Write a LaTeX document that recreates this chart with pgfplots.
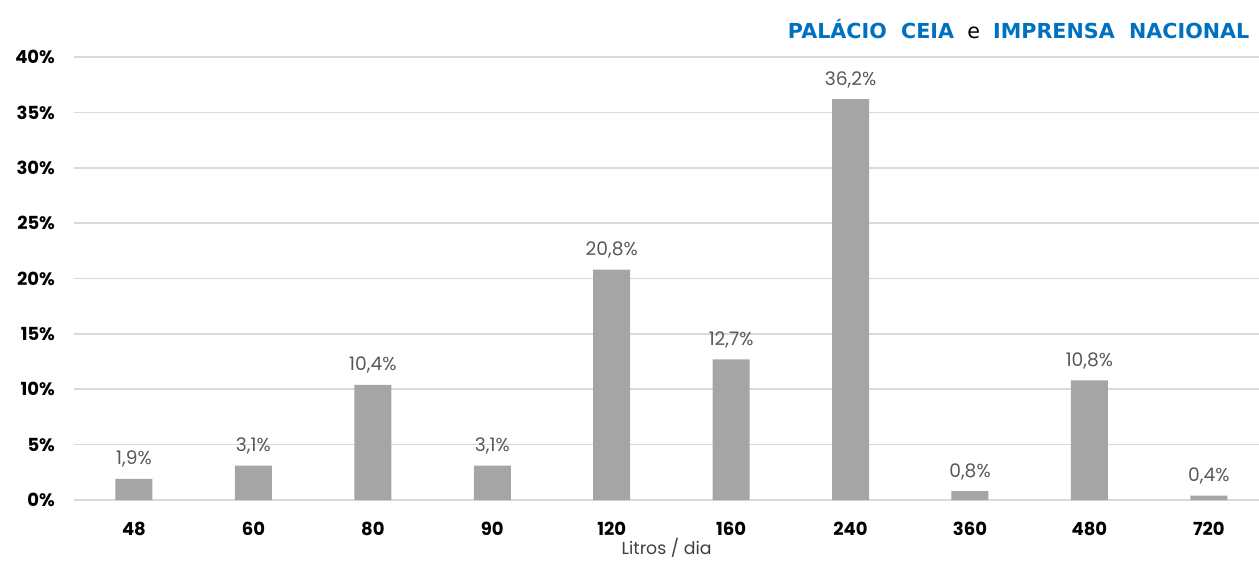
\documentclass[border=0pt]{standalone}
\usepackage{pgfplots}
\pgfplotsset{compat=1.18}
\usepackage{fontspec}
\setmainfont{Poppins}
\newfontfamily\titlefont{DejaVu Sans}
\definecolor{barc}{HTML}{A5A5A5}
\definecolor{gridc}{HTML}{D9D9D9}
\definecolor{labc}{HTML}{595959}
\definecolor{titc}{HTML}{0070C0}

\begin{document}
\begin{tikzpicture}
\begin{axis}[
    scale only axis,
    width=888.5pt, height=332.25pt,
    ymin=0, ymax=40,
    xmin=-0.5, xmax=9.42,
    ybar, bar width=27.75pt,
    xtick=data,
    xticklabels={48,60,80,90,120,160,240,360,480,720},
    ytick={0,5,...,40},
    yticklabel={\pgfmathprintnumber[assume math mode=true]{\tick}\%},
    ymajorgrids=true,
    grid style={gridc, line width=1.2pt},
    axis x line*=bottom,
    axis y line*=left,
    x axis line style={gridc, line width=1.2pt, -},
    y axis line style={draw=none},
    major tick length=0pt,
    xticklabel style={font=\bfseries\fontsize{13.5}{13.5}\selectfont, yshift=-13pt},
    yticklabel style={font=\bfseries\fontsize{13.5}{13.5}\selectfont, xshift=-11pt},
    xlabel={Litros / dia},
    xlabel style={font=\fontsize{13}{13}\selectfont, text=black!75, at={(axis description cs:0.5,0)}, anchor=base, yshift=-41pt},
    nodes near coords={\pgfmathprintnumber[fixed,precision=1,fixed zerofill,use comma,assume math mode=true]{\pgfplotspointmeta}\%},
    every node near coord/.append style={font=\fontsize{14}{14}\selectfont, text=labc, yshift=5pt},
]
\addplot[fill=barc, draw=none] coordinates {
    (0,1.9) (1,3.1) (2,10.4) (3,3.1) (4,20.8)
    (5,12.7) (6,36.2) (7,0.8) (8,10.8) (9,0.4)
};
\end{axis}
\node[anchor=base east, font=\titlefont\fontsize{15.5}{15.5}\selectfont] at (884.8pt,346pt)
    {\textcolor{titc}{\bfseries PALÁCIO\ \ CEIA}\ \ e\ \ \textcolor{titc}{\bfseries IMPRENSA\ \ NACIONAL}};
\pgfresetboundingbox
\path (-55.7pt,-48.75pt) rectangle (888.5pt,375pt);
\end{tikzpicture}
\end{document}
